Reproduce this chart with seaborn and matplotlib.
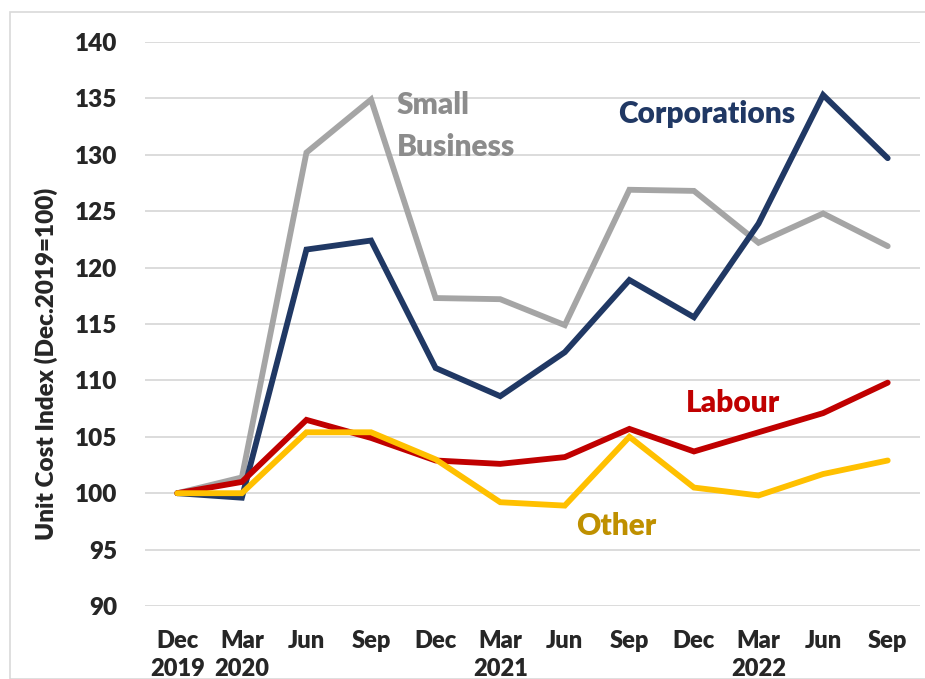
import matplotlib
matplotlib.use("Agg")
import matplotlib.pyplot as plt
import seaborn as sns
import pandas as pd
from matplotlib.patches import Rectangle

# Quarterly unit cost index, Dec.2019 = 100
quarters = ["Dec\n2019", "Mar\n2020", "Jun", "Sep", "Dec", "Mar\n2021", "Jun",
            "Sep", "Dec", "Mar\n2022", "Jun", "Sep"]
small_business = [100.0, 101.4, 130.2, 134.9, 117.3, 117.2, 114.9, 126.9, 126.8, 122.2, 124.8, 121.9]
corporations = [100.0, 99.6, 121.6, 122.4, 111.1, 108.6, 112.5, 118.9, 115.6, 123.9, 135.3, 129.7]
labour = [100.0, 101.0, 106.5, 104.9, 102.9, 102.6, 103.2, 105.7, 103.7, 105.4, 107.1, 109.8]
other = [100.0, 100.0, 105.4, 105.4, 103.0, 99.2, 98.9, 105.0, 100.5, 99.8, 101.7, 102.9]

series_names = ["Small Business", "Corporations", "Labour", "Other"]
line_colors = ["#A5A5A5", "#203864", "#C00000", "#FFC000"]
text_colors = ["#8C8C8C", "#203864", "#C00000", "#BF9000"]

rows = []
for name, vals in zip(series_names, [small_business, corporations, labour, other]):
    for i, v in enumerate(vals):
        rows.append({"q": i, "value": v, "series": name})
df = pd.DataFrame(rows)

sns.set_theme(style="white")
plt.rcParams["font.family"] = ["Lato", "DejaVu Sans"]
W = "heavy"

fig = plt.figure(figsize=(9.25, 6.79), dpi=100)
ax = fig.add_axes([145 / 925, 1 - 606 / 679, 775 / 925, (606 - 42) / 679])

# light frame around the chart area
fig.patches.append(Rectangle((10 / 925, 0), 1.2, 1 - 12 / 679, transform=fig.transFigure,
                             fill=False, edgecolor="#D9D9D9", linewidth=1.2))

sns.lineplot(data=df, x="q", y="value", hue="series", hue_order=series_names,
             palette=dict(zip(series_names, line_colors)), linewidth=4.2,
             legend=False, ax=ax, solid_capstyle="round", solid_joinstyle="miter")

ax.set_xlim(-0.5, 11.5)
ax.set_ylim(90, 140)
ax.set_yticks(range(90, 141, 5))
ax.yaxis.grid(True, color="#D9D9D9", linewidth=1.3)
ax.set_axisbelow(True)
for s in ax.spines.values():
    s.set_visible(False)
ax.set_xticks(range(len(quarters)))
ax.set_xticklabels(quarters, fontsize=17, fontweight=W, linespacing=1.35)
ax.tick_params(axis="x", length=0, pad=17)
ax.tick_params(axis="y", length=0, pad=20, labelsize=17.5)
for t in ax.get_yticklabels():
    t.set_fontweight(W)
ax.set_xlabel("")
ax.set_ylabel("Unit Cost Index (Dec.2019=100)", fontsize=17.5, fontweight=W)
ax.yaxis.set_label_coords(-0.112, 0.43)

# series labels
ax.text(3.4, 132.55, "Small\nBusiness", color=text_colors[0], fontsize=21.5, fontweight=W,
        ha="left", va="center", linespacing=1.6)
ax.text(8.2, 133.6, "Corporations", color=text_colors[1], fontsize=21.5, fontweight=W,
        ha="center", va="center")
ax.text(8.6, 108.0, "Labour", color=text_colors[2], fontsize=21.5, fontweight=W,
        ha="center", va="center")
ax.text(6.8, 97.1, "Other", color=text_colors[3], fontsize=21.5, fontweight=W,
        ha="center", va="center")

fig.savefig("out.png", dpi=100)
